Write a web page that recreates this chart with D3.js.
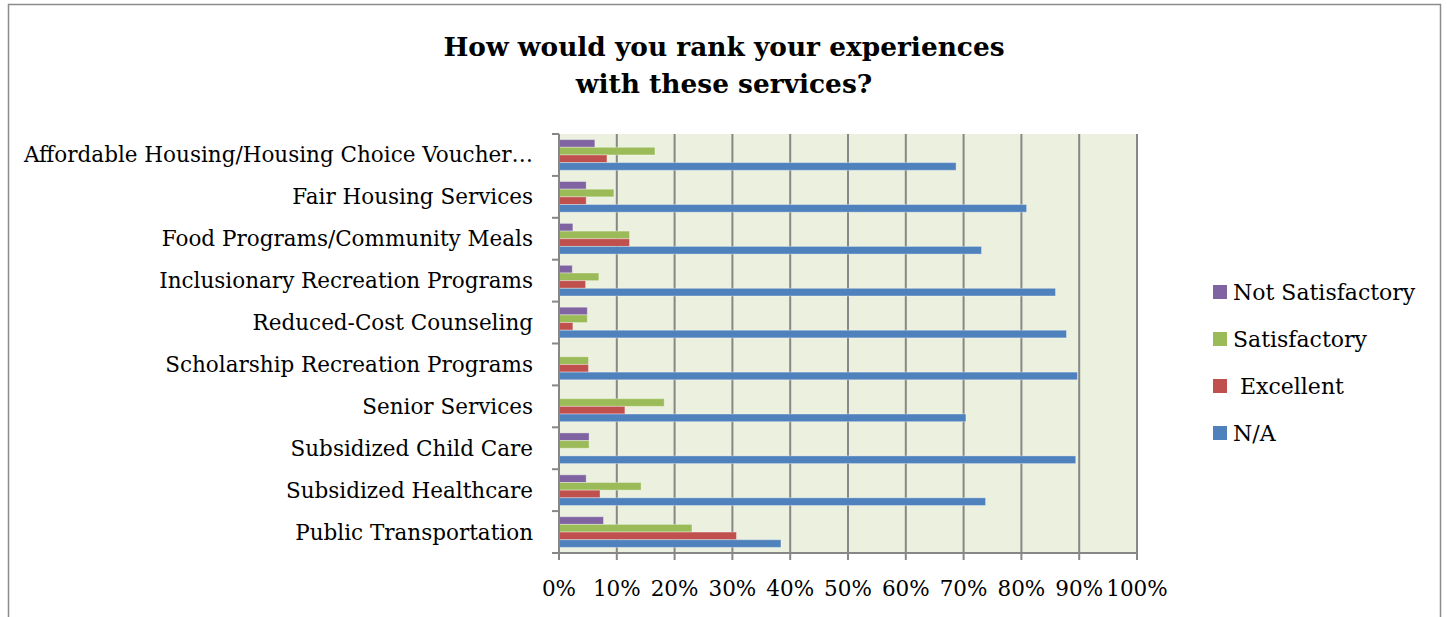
<!DOCTYPE html>
<html><head><meta charset="utf-8">
<script src="https://cdn.jsdelivr.net/npm/d3@7"></script>
<style>body{margin:0;background:#fff}svg{display:block}</style>
</head><body>
<svg id="c" width="1447" height="617"></svg>
<script>
const categories = [
  "Affordable Housing/Housing Choice Voucher…",
  "Fair Housing Services",
  "Food Programs/Community Meals",
  "Inclusionary Recreation Programs",
  "Reduced-Cost Counseling",
  "Scholarship Recreation Programs",
  "Senior Services",
  "Subsidized Child Care",
  "Subsidized Healthcare",
  "Public Transportation"
];
const seriesNames = ["Not Satisfactory", "Satisfactory", " Excellent", "N/A"];
const notSatisfactory = [6.2, 4.7, 2.4, 2.3, 4.9, 0, 0, 5.2, 4.7, 7.7];
const satisfactory    = [16.6, 9.5, 12.2, 6.9, 4.9, 5.1, 18.2, 5.2, 14.2, 23.0];
const excellent       = [8.3, 4.7, 12.2, 4.6, 2.4, 5.1, 11.4, 0, 7.1, 30.7];
const na              = [68.7, 80.9, 73.1, 85.9, 87.8, 89.7, 70.4, 89.4, 73.8, 38.4];
const xTicks = [0,10,20,30,40,50,60,70,80,90,100];
const colors = ["#8064A2", "#9BBB59", "#C0504D", "#4F81BD"];
const allSeries = [notSatisfactory, satisfactory, excellent, na];

const svg = d3.select("#c");
const serif = "'DejaVu Serif', 'Liberation Serif', serif";

// outer border
svg.append("rect").attr("x",8.5).attr("y",4.5).attr("width",1432).attr("height",640)
  .attr("fill","#fff").attr("stroke","#8c8c8c").attr("stroke-width",1.5);

const L = 559, R = 1137, T = 134, B = 553;
const x = d3.scaleLinear().domain([0,100]).range([L,R]);
const y = d3.scaleBand().domain(categories).range([T,B]).paddingInner(0.268).paddingOuter(0.134);
const ys = d3.scaleBand().domain(d3.range(4)).range([0, y.bandwidth()]);

svg.append("rect").attr("x",L).attr("y",T).attr("width",R-L).attr("height",B-T).attr("fill","#EBF1DE");

// gridlines
svg.append("g").selectAll("line").data(xTicks.slice(1)).join("line")
  .attr("x1",d=>x(d)).attr("x2",d=>x(d)).attr("y1",T).attr("y2",B)
  .attr("stroke","#878787").attr("stroke-width",2);

// bars
const data = [];
categories.forEach((c,i)=>allSeries.forEach((s,j)=>data.push({c, j, v:s[i]})));
svg.append("g").selectAll("rect").data(data.filter(d=>d.v>0)).join("rect")
  .attr("x",x(0)).attr("y",d=>y(d.c)+ys(d.j))
  .attr("width",d=>x(d.v)-x(0)).attr("height",ys.bandwidth())
  .attr("fill",d=>colors[d.j]).attr("stroke","rgba(255,255,255,0.35)").attr("stroke-width",1);

// y axis
const yAxis = svg.append("g");
yAxis.append("line").attr("x1",L).attr("x2",L).attr("y1",T).attr("y2",B+7).attr("stroke","#878787").attr("stroke-width",2);
const yb = d3.range(categories.length+1).map(i=>T+i*(B-T)/categories.length);
yAxis.selectAll("line.t").data(yb).join("line").attr("class","t")
  .attr("x1",L-7).attr("x2",L).attr("y1",d=>d).attr("y2",d=>d).attr("stroke","#878787").attr("stroke-width",2);
yAxis.selectAll("text").data(categories).join("text")
  .attr("x",533).attr("y",d=>y(d)+y.bandwidth()/2).attr("dy","0.35em")
  .attr("text-anchor","end").attr("font-family",serif).attr("font-size",21.5).attr("fill","#000")
  .text(d=>d);

// x axis
const xAxis = svg.append("g");
xAxis.append("line").attr("x1",L-7).attr("x2",R).attr("y1",B).attr("y2",B).attr("stroke","#878787").attr("stroke-width",2);
xAxis.selectAll("line.t").data(xTicks).join("line").attr("class","t")
  .attr("x1",d=>x(d)).attr("x2",d=>x(d)).attr("y1",B).attr("y2",B+7).attr("stroke","#878787").attr("stroke-width",2);
xAxis.selectAll("text").data(xTicks).join("text")
  .attr("x",d=>x(d)).attr("y",596).attr("text-anchor","middle")
  .attr("font-family",serif).attr("font-size",21.5).attr("fill","#000")
  .text(d=>d+"%");

// title
const title = svg.append("text").attr("x",724).attr("text-anchor","middle")
  .attr("font-family",serif).attr("font-weight","bold").attr("font-size",26.4).attr("fill","#000");
title.append("tspan").attr("x",724).attr("y",56).text("How would you rank your experiences");
title.append("tspan").attr("x",724).attr("y",93).text("with these services?");

// legend
const lg = svg.append("g").selectAll("g").data(seriesNames).join("g")
  .attr("transform",(d,i)=>`translate(1213,${292+i*47})`);
lg.append("rect").attr("x",0).attr("y",-7).attr("width",14).attr("height",14).attr("fill",(d,i)=>colors[i]);
lg.append("text").attr("x",20).attr("dy","0.35em").attr("font-family",serif).attr("font-size",22)
  .attr("xml:space","preserve").style("white-space","pre").text(d=>d);
</script>
</body></html>
